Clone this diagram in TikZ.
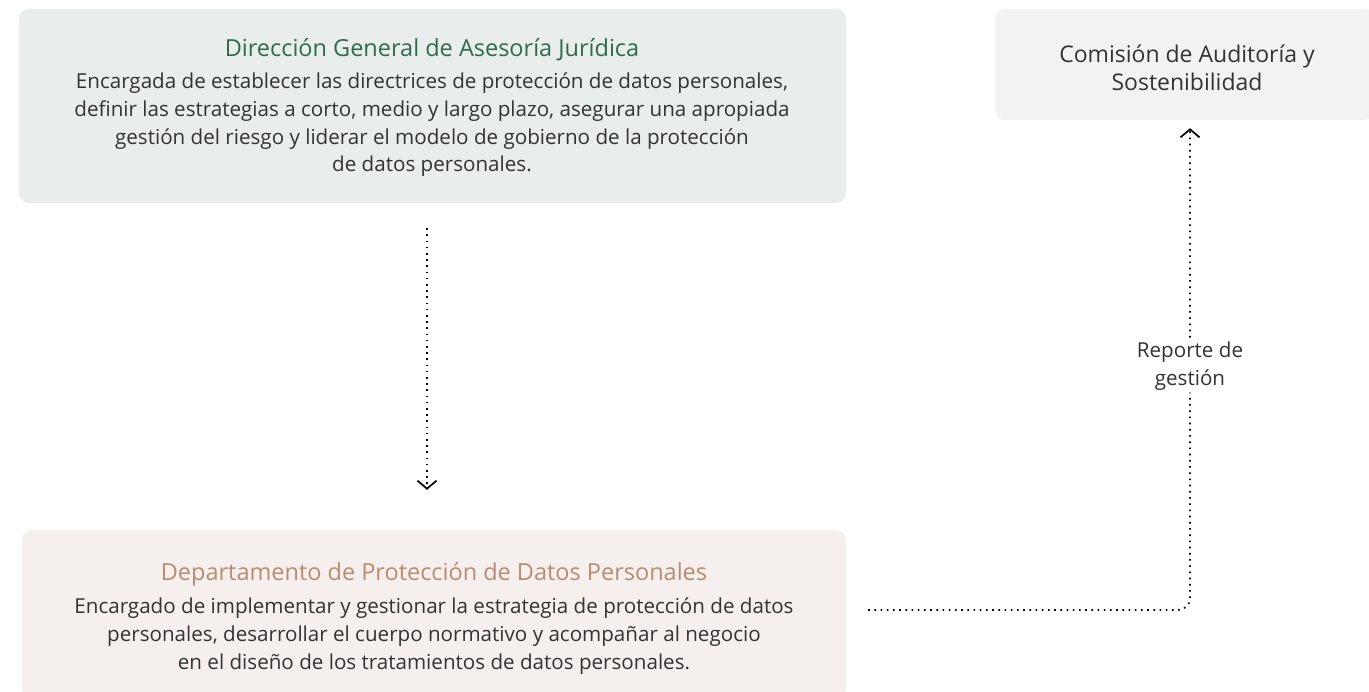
\documentclass[tikz,border=0pt]{standalone}
\usepackage{fontspec}
\setmainfont{Open Sans}
\usetikzlibrary{arrows.meta,calc}
\definecolor{boxA}{HTML}{E9EDEB}
\definecolor{boxB}{HTML}{F2F2F2}
\definecolor{boxC}{HTML}{F5F0EE}
\definecolor{titA}{HTML}{2F6B4F}
\definecolor{titC}{HTML}{BA8B70}
\definecolor{txt}{HTML}{333333}
\tikzset{
  panel/.style={rounded corners=10pt, inner sep=0pt},
  ttl/.style={font=\fontsize{23.5}{28}\selectfont, anchor=base},
  body/.style={font=\fontsize{20.6}{27.7}\selectfont, text=txt, align=center, inner sep=0pt},
  flow/.style={line width=1.8pt, dash pattern=on 1.6pt off 4.6pt, -{Straight Barb[length=8pt,width=19pt,line width=1.7pt]}},
}
\begin{document}
\begin{tikzpicture}[x=1pt,y=-1pt]
\useasboundingbox (0,0) rectangle (1369,692);
% panels
\node[panel, fill=boxA, minimum width=827pt, minimum height=194pt] (dgaj) at (432.5,106) {};
\node[panel, fill=boxB, minimum width=380pt, minimum height=111pt] (cas) at (1185,64.5) {};
\node[panel, fill=boxC, minimum width=824pt, minimum height=170pt] (dpdp) at (434,615) {};
% texts
\node[ttl, text=titA] (dgajT) at (432,57) {Dirección General de Asesoría Jurídica};
\node[body, anchor=base] (dgajB) at (432,172) {Encargada de establecer las directrices de protección de datos personales,\\
definir las estrategias a corto, medio y largo plazo, asegurar una apropiada\\
gestión del riesgo y liderar el modelo de gobierno de la protección\\
de datos personales.};
\node[font=\fontsize{23}{28}\selectfont, text=txt, align=center, inner sep=0pt] (casT) at (1187,68) {Comisión de Auditoría y\\Sostenibilidad};
\node[ttl, text=titC] (dpdpT) at (434,580) {Departamento de Protección de Datos Personales};
\node[body, anchor=base] (dpdpB) at (434,669) {Encargado de implementar y gestionar la estrategia de protección de datos\\
personales, desarrollar el cuerpo normativo y acompañar al negocio\\
en el diseño de los tratamientos de datos personales.};
% connectors
\draw[flow] ([xshift=-5.5pt,yshift=-25pt]dgaj.south) -- ([xshift=-7pt,yshift=40pt]dpdp.north);
\draw[flow, rounded corners=12pt] ([xshift=22pt,yshift=5pt]dpdp.east) -| ([xshift=5pt,yshift=-8pt]cas.south)
  node[pos=0.753, fill=white, inner sep=2pt, font=\fontsize{20.6}{28}\selectfont, text=txt, align=center] (lbl) {Reporte de\\gestión};
\end{tikzpicture}
\end{document}
